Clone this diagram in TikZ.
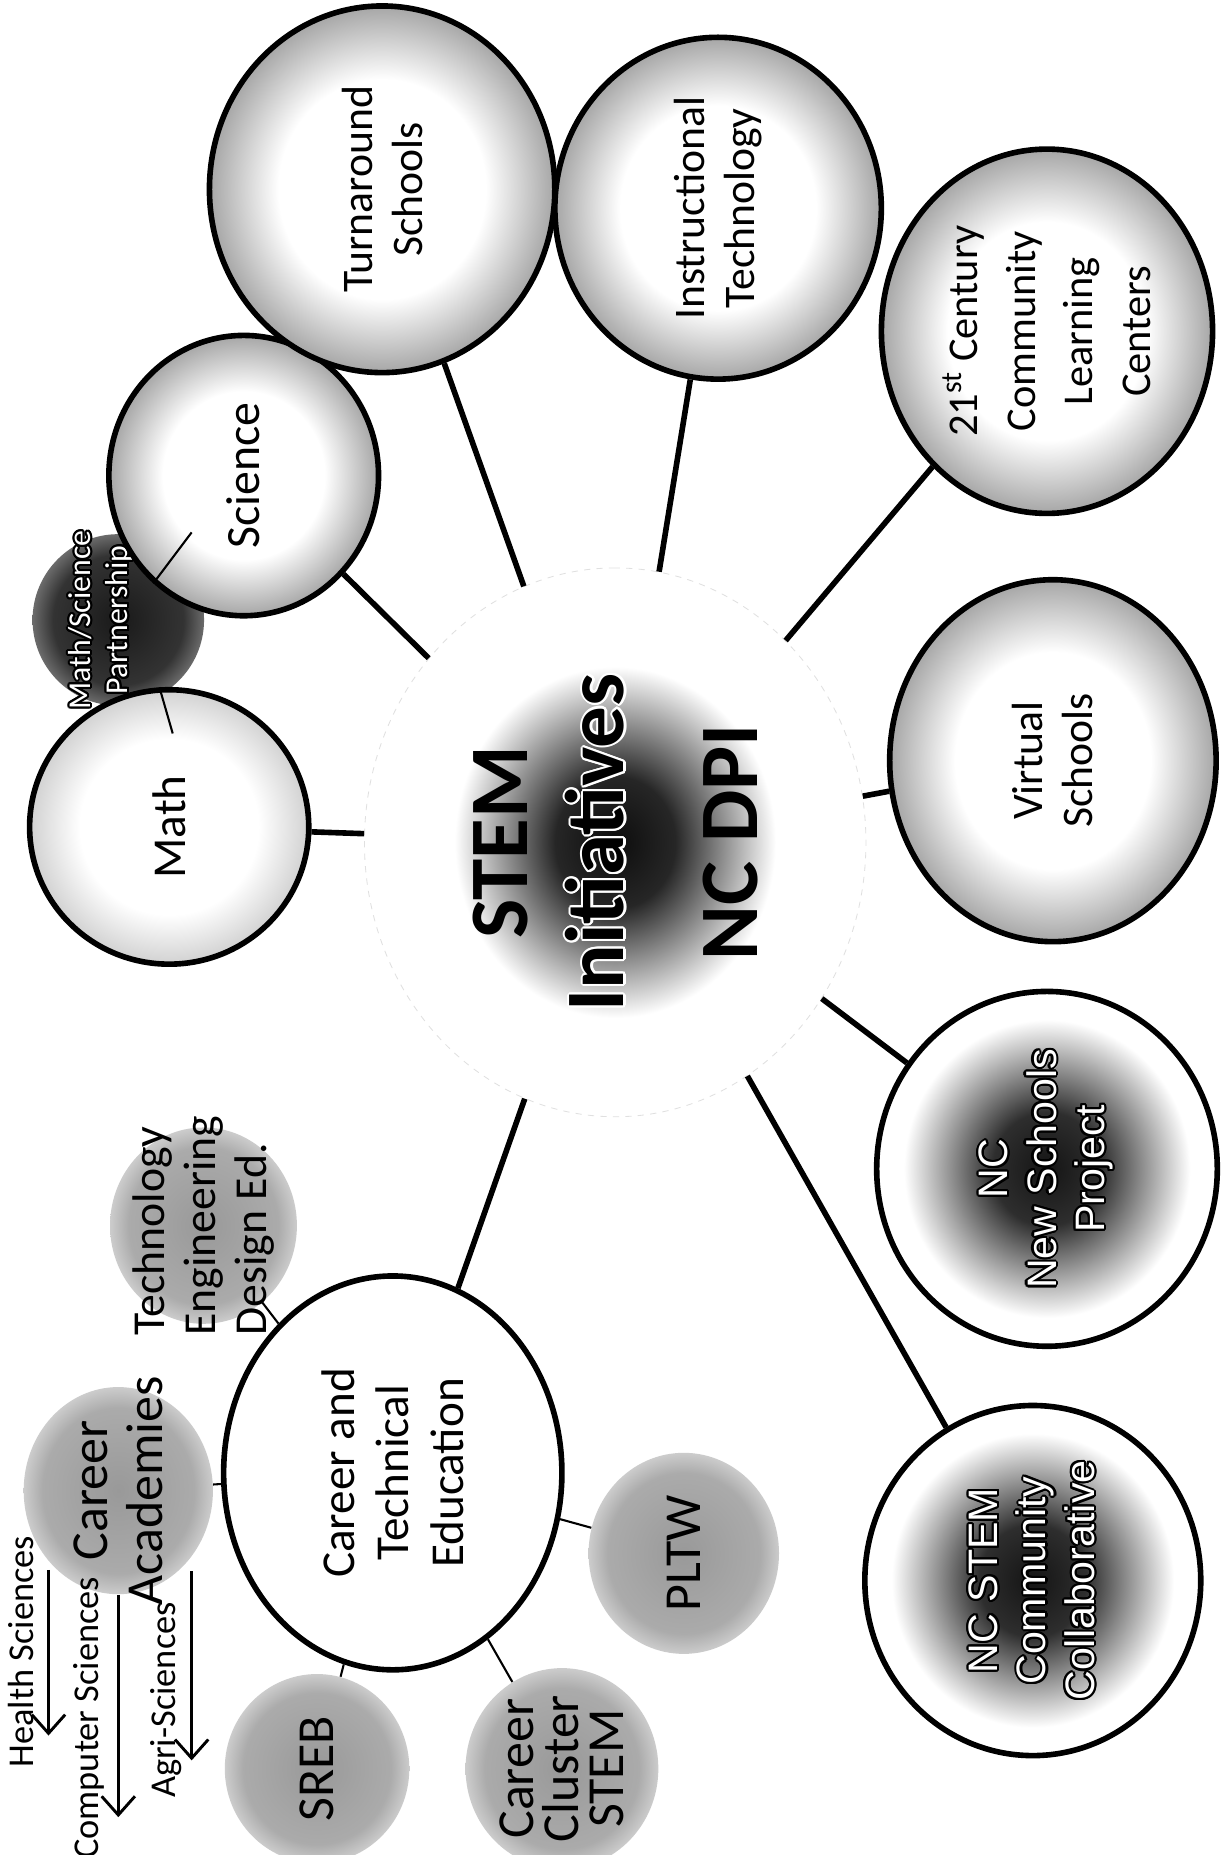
\documentclass[tikz,border=0pt]{standalone}
\usepackage{fontspec}
\setmainfont{Carlito}
\newfontfamily\arialfont{Liberation Sans}
\usepackage[copies]{contour}
\contourlength{1pt}
\usetikzlibrary{shapes.geometric,arrows.meta}

% radial fills for the bubbles (node rim sits at 25bp)
\pgfdeclareradialshading{rimlight}{\pgfpointorigin}{color(0bp)=(white); color(16bp)=(white); color(25bp)=(black!18); color(50bp)=(black!18)}
\pgfdeclareradialshading{rimgray}{\pgfpointorigin}{color(0bp)=(white); color(15bp)=(white); color(25bp)=(black!35); color(50bp)=(black!35)}
\pgfdeclareradialshading{darkcore}{\pgfpointorigin}{color(0bp)=(black!92); color(8bp)=(black!82); color(21bp)=(white); color(50bp)=(white)}
\pgfdeclareradialshading{hubcore}{\pgfpointorigin}{color(0bp)=(black!95); color(6bp)=(black!85); color(16bp)=(white); color(50bp)=(white)}
\pgfdeclareradialshading{satgray}{\pgfpointorigin}{color(0bp)=(black!40); color(20bp)=(black!33); color(25bp)=(black!20); color(50bp)=(black!20)}
\pgfdeclareradialshading{mspdark}{\pgfpointorigin}{color(0bp)=(black!90); color(19bp)=(black!80); color(25bp)=(black!58); color(50bp)=(black!58)}

\newcommand{\outlined}[1]{\textcolor{white}{\contour{black}{#1}}}

\begin{document}
\begin{tikzpicture}[x=0.02cm, y=-0.02cm,
  bubble/.style={ellipse, draw, line width=2.7pt, rotate=90, inner sep=0pt, align=center,
    font=\fontsize{21pt}{24pt}\selectfont},
  satellite/.style={ellipse, shading=satgray, rotate=90, inner sep=-0.7cm, align=center,
    font=\fontsize{25pt}{24pt}\selectfont},
  hub/.style={ellipse, shading=hubcore, draw=black!12, dashed, rotate=90, inner sep=0pt,
    align=center, minimum width=9.28cm, minimum height=8.48cm,
    font=\fontsize{40pt}{46.5pt}\bfseries\selectfont},
  tag/.style={rotate=90, inner sep=0pt, font=\fontsize{17.5pt}{20pt}\selectfont},
  spoke/.style={line width=2.7pt},
  twig/.style={line width=1pt},
  pathway/.style={line width=1.4pt, -{Straight Barb[length=9pt,width=16pt]}}]
\useasboundingbox[fill=white] (0,0) rectangle (1034,1568);

% centre
\node[hub] (hub) at (520,712) {STEM\\\contour{white}{Initiatives}\\[17.5pt]NC DPI};

% partnership sits behind math and science
\node[satellite, shading=mspdark, minimum width=2.9cm, minimum height=2.9cm] (msp) at (100,524) {};
\node[rotate=90, inner sep=0pt, align=center, font=\fontsize{15.3pt}{18pt}\selectfont]
  (msptext) at (86,524) {\outlined{Math/Science}\\\outlined{Partnership}};

% outer ring
\node[bubble, shading=rimlight, minimum width=4.64cm, minimum height=4.72cm,
  font=\fontsize{22.7pt}{26pt}\selectfont] (math) at (143,699) {Math};
\node[bubble, shading=rimgray, minimum width=4.74cm, minimum height=4.56cm,
  font=\fontsize{23pt}{26pt}\selectfont] (science) at (206,402) {Science};
\node[bubble, shading=rimgray, minimum width=6.2cm, minimum height=5.84cm]
  (turnaround) at (323,160) {Turnaround\\Schools};
\node[bubble, shading=rimgray, minimum width=5.78cm, minimum height=5.52cm]
  (instructional) at (607,176) {Instructional\\Technology};
\node[bubble, shading=rimgray, minimum width=6.16cm, minimum height=5.6cm,
  font=\fontsize{20.4pt}{27.8pt}\selectfont]
  (clc) at (885,280) {21\textsuperscript{st} Century\\Community\\Learning\\Centers};
\node[bubble, shading=rimgray, minimum width=6.12cm, minimum height=5.52cm]
  (virtual) at (890,643) {Virtual\\Schools};
\node[bubble, shading=darkcore, minimum width=6cm, minimum height=5.76cm,
  font=\arialfont\fontsize{19.8pt}{23.2pt}\selectfont]
  (newschools) at (885,988) {\outlined{NC}\\\outlined{New Schools}\\\outlined{Project}};
\node[bubble, shading=darkcore, minimum width=5.92cm, minimum height=5.68cm,
  font=\arialfont\fontsize{19.8pt}{23.2pt}\selectfont]
  (ncstem) at (873,1336) {\outlined{NC STEM}\\\outlined{Community}\\\outlined{Collaborative}};
\node[bubble, fill=white, minimum width=6.66cm, minimum height=5.72cm,
  font=\fontsize{22.7pt}{26pt}\selectfont]
  (cte) at (332,1245) {Career and\\Technical\\Education};

% career and technical education offshoots
\node[satellite, align=left, minimum width=3.32cm, minimum height=3.16cm,
  font=\fontsize{22pt}{24.4pt}\selectfont]
  (ted) at (172,1036) {Technology\\Engineering\\Design Ed.};
\node[satellite, minimum width=3.46cm, minimum height=3.2cm,
  font=\fontsize{25pt}{26.6pt}\selectfont] (academies) at (100,1260) {Career\\Academies};
\node[satellite, minimum width=3.2cm, minimum height=3.12cm] (sreb) at (268,1495) {SREB};
\node[satellite, minimum width=3.4cm, minimum height=3.26cm,
  font=\fontsize{25pt}{21.5pt}\selectfont] (cluster) at (475,1495) {Career\\Cluster\\STEM};
\node[satellite, minimum width=3.4cm, minimum height=3.22cm] (pltw) at (578,1313) {PLTW};

% academy pathways
\node[tag] (health) at (18,1396) {Health Sciences};
\node[tag] (computer) at (75,1452) {Computer Sciences};
\node[tag] (agri) at (140,1437) {Agri-Sciences};
\coordinate (healthtop) at (41,1327);
\coordinate (healthtip) at (41,1467);
\coordinate (computertop) at (100,1348);
\coordinate (computertip) at (100,1536);
\coordinate (agritop) at (162,1328);
\coordinate (agritip) at (162,1488);
\draw[pathway] (healthtop) -- (healthtip);
\draw[pathway] (computertop) -- (computertip);
\draw[pathway] (agritop) -- (agritip);

% spokes
\foreach \n in {math,science,turnaround,instructional,clc,virtual,newschools,ncstem,cte}
  \draw[spoke] (\n) -- (hub);
\foreach \n in {ted,academies,sreb,cluster,pltw}
  \draw[twig] (\n) -- (cte);
\coordinate (mspup) at (162,450);
\coordinate (mspdown) at (146,620);
\draw[twig] (science.140) -- (mspup);
\draw[twig] (math.4) -- (mspdown);
\end{tikzpicture}
\end{document}
